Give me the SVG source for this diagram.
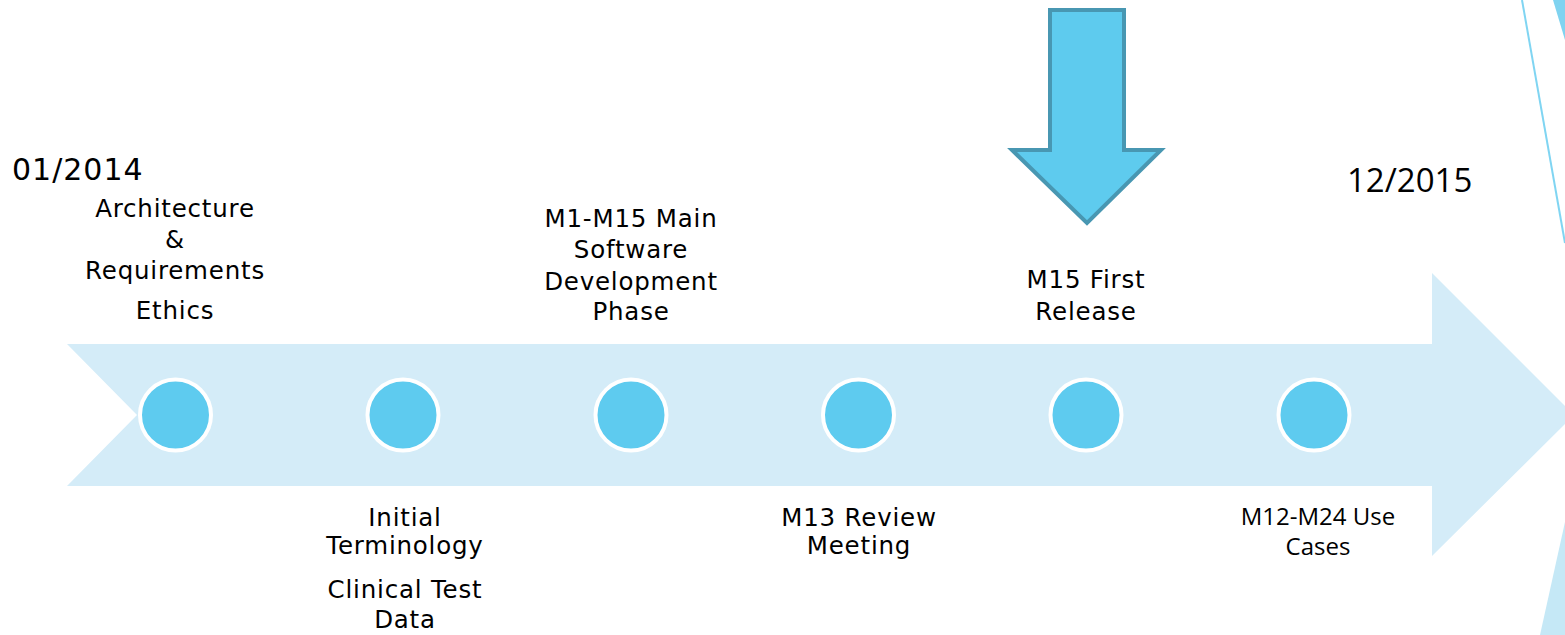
<svg xmlns="http://www.w3.org/2000/svg" width="1565" height="635" viewBox="0 0 1565 635">
  <style>
    .lbl { font-family: "DejaVu Sans", "Liberation Sans", sans-serif; font-size: 24.5px; letter-spacing: 0.8px; fill: #000; text-anchor: middle; }
    .lbl2 { font-family: "Open Sans", "Liberation Sans", sans-serif; font-size: 24px; fill: #000; text-anchor: middle; }
    .date { font-family: "DejaVu Sans", "Liberation Sans", sans-serif; font-size: 30px; letter-spacing: 1px; fill: #000; }
    .date2 { font-family: "Open Sans", "Liberation Sans", sans-serif; font-size: 33px; fill: #000; }
    .dot { fill: #5ecbef; stroke: #ffffff; stroke-width: 4; }
  </style>
  <rect width="1565" height="635" fill="#ffffff"/>
  <g id="decor">
    <polygon points="1553,0 1565,0 1565,40" fill="#7fd3f0"/>
    <line x1="1522" y1="0" x2="1565" y2="243" stroke="#80d5f2" stroke-width="2"/>
    <polygon points="1540,635 1565,522 1565,635" fill="#c5e8f6"/>
  </g>
  <g id="timeline-arrow">
    <polygon points="67,344 1432,344 1432,273 1574,415 1432,556 1432,486 67,486 137,415" fill="#d4ecf8"/>
  </g>
  <g id="connectors"></g>
  <g id="node-1">
    <circle class="dot" cx="175.5" cy="415" r="35.5"/>
    <text class="lbl" x="175" y="217">Architecture</text>
    <text class="lbl" x="175" y="248">&amp;</text>
    <text class="lbl" x="175" y="279">Requirements</text>
    <text class="lbl" x="175" y="319">Ethics</text>
  </g>
  <g id="node-2">
    <circle class="dot" cx="403" cy="415" r="35.5"/>
    <text class="lbl" x="405" y="526">Initial</text>
    <text class="lbl" x="405" y="554">Terminology</text>
    <text class="lbl" x="405" y="598">Clinical Test</text>
    <text class="lbl" x="405" y="628">Data</text>
  </g>
  <g id="node-3">
    <circle class="dot" cx="631" cy="415" r="35.5"/>
    <text class="lbl" x="631" y="227">M1-M15 Main</text>
    <text class="lbl" x="631" y="258">Software</text>
    <text class="lbl" x="631" y="290">Development</text>
    <text class="lbl" x="631" y="320">Phase</text>
  </g>
  <g id="node-4">
    <circle class="dot" cx="858.5" cy="415" r="35.5"/>
    <text class="lbl" x="859" y="526">M13 Review</text>
    <text class="lbl" x="859" y="554">Meeting</text>
  </g>
  <g id="node-5">
    <circle class="dot" cx="1086" cy="415" r="35.5"/>
    <text class="lbl" x="1086" y="288">M15 First</text>
    <text class="lbl" x="1086" y="320">Release</text>
  </g>
  <g id="node-6">
    <circle class="dot" cx="1314" cy="415" r="35.5"/>
    <text class="lbl2" x="1318" y="525">M12-M24 Use</text>
    <text class="lbl2" x="1318" y="555">Cases</text>
  </g>
  <g id="down-arrow">
    <polygon points="1050,10 1124,10 1124,150 1161,150 1087,223 1012,150 1050,150" fill="#5ecbee" stroke="#4897b2" stroke-width="4"/>
  </g>
  <g id="dates">
    <text class="date" x="12" y="180">01/2014</text>
    <text class="date2" x="1347" y="192">12/2015</text>
  </g>
</svg>
